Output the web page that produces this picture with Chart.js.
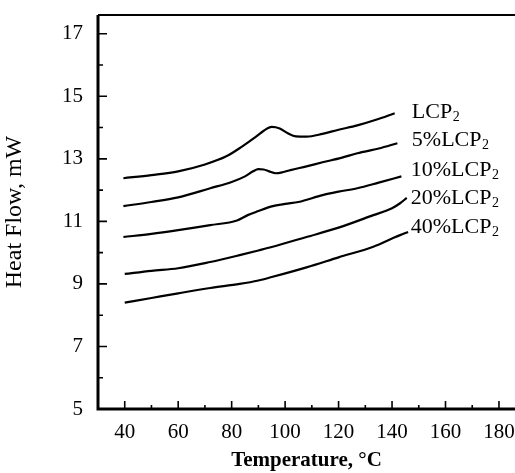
<!DOCTYPE html>
<html>
<head>
<meta charset="utf-8">
<script src="https://cdn.jsdelivr.net/npm/chart.js@4/dist/chart.umd.min.js"></script>
<style>
  html, body { margin: 0; padding: 0; background: #fff; }
  #wrap { width: 515px; height: 473px; }
</style>
</head>
<body>
<div id="wrap"><canvas id="dscChart" width="515" height="473"></canvas></div>
<script>
// === Curve data ===
const tempLCP2 = [39.5, 50, 60, 70, 78, 84, 89, 92, 95, 98, 101, 104, 108, 114, 120, 127, 134, 141];
const flowLCP2 = [12.38, 12.48, 12.60, 12.82, 13.08, 13.40, 13.70, 13.90, 14.02, 13.97, 13.82, 13.72, 13.71, 13.80, 13.93, 14.07, 14.25, 14.46];

const temp5 = [39.5, 50, 60, 72, 80, 85, 88, 90, 92, 94, 96.5, 99, 102, 108, 114, 121, 127, 135, 142];
const flow5 = [11.49, 11.62, 11.77, 12.06, 12.26, 12.44, 12.60, 12.67, 12.66, 12.60, 12.54, 12.57, 12.64, 12.76, 12.89, 13.03, 13.18, 13.33, 13.50];

const temp10 = [39.5, 50, 60, 72, 82, 86, 90, 95, 100, 105, 114, 120, 127, 135, 143.5];
const flow10 = [10.50, 10.60, 10.72, 10.88, 11.03, 11.20, 11.33, 11.48, 11.56, 11.62, 11.84, 11.95, 12.06, 12.24, 12.44];

const temp20 = [40, 50, 60, 72, 83, 90, 95, 108, 120, 133, 140, 143, 145.5];
const flow20 = [9.32, 9.42, 9.50, 9.70, 9.92, 10.07, 10.18, 10.50, 10.80, 11.20, 11.42, 11.58, 11.75];

const temp40 = [40, 50, 60, 72, 83, 90, 95, 108, 120, 133, 140, 143, 146];
const flow40 = [8.40, 8.55, 8.70, 8.87, 9.00, 9.11, 9.22, 9.53, 9.85, 10.19, 10.45, 10.56, 10.66];

// === Curve labels ===
const curveNames = ["LCP", "5%LCP", "10%LCP", "20%LCP", "40%LCP"];
const labelTemp = [147.4, 147.4, 147, 147, 147];
const labelFlow = [14.49, 13.59, 12.64, 11.74, 10.81];

// === Ticks ===
const xMajor = [40, 60, 80, 100, 120, 140, 160, 180];
const xMinor = [50, 70, 90, 110, 130, 150, 170];
const yMajor = [5, 7, 9, 11, 13, 15, 17];
const yMinor = [6, 8, 10, 12, 14, 16];

const FONT = "'Liberation Serif', 'Times New Roman', serif";

function toPoints(xs, ys) {
  return xs.map((x, i) => ({ x: x, y: ys[i] }));
}

const series = [
  toPoints(tempLCP2, flowLCP2),
  toPoints(temp5, flow5),
  toPoints(temp10, flow10),
  toPoints(temp20, flow20),
  toPoints(temp40, flow40),
];

// draws the frame, inward ticks and the curve labels
const framePlugin = {
  id: "frame",
  afterDraw(chart) {
    const { ctx, chartArea: a, scales } = chart;
    const xs = scales.x, ys = scales.y;
    ctx.save();
    ctx.strokeStyle = "#000";
    ctx.lineCap = "butt";

    // axes lines
    ctx.lineWidth = 3;
    ctx.beginPath();
    ctx.moveTo(a.left, a.top);
    ctx.lineTo(a.left, a.bottom);
    ctx.lineTo(a.right, a.bottom);
    ctx.stroke();
    ctx.lineWidth = 2;
    ctx.beginPath();
    ctx.moveTo(a.left, a.top);
    ctx.lineTo(a.right, a.top);
    ctx.stroke();

    // inward ticks
    ctx.lineWidth = 1.6;
    ctx.beginPath();
    yMajor.forEach((v) => {
      const p = ys.getPixelForValue(v);
      ctx.moveTo(a.left, p); ctx.lineTo(a.left + 9, p);
    });
    yMinor.forEach((v) => {
      const p = ys.getPixelForValue(v);
      ctx.moveTo(a.left, p); ctx.lineTo(a.left + 5, p);
    });
    xMajor.forEach((v) => {
      const p = xs.getPixelForValue(v);
      ctx.moveTo(p, a.bottom); ctx.lineTo(p, a.bottom - 8);
    });
    xMinor.forEach((v) => {
      const p = xs.getPixelForValue(v);
      ctx.moveTo(p, a.bottom); ctx.lineTo(p, a.bottom - 4);
    });
    ctx.stroke();

    // curve labels with subscript 2
    ctx.fillStyle = "#000";
    ctx.textBaseline = "middle";
    ctx.textAlign = "left";
    curveNames.forEach((name, i) => {
      const px = xs.getPixelForValue(labelTemp[i]);
      const py = ys.getPixelForValue(labelFlow[i]);
      ctx.font = "22px " + FONT;
      ctx.fillText(name, px, py);
      const w = ctx.measureText(name).width;
      ctx.font = "14px " + FONT;
      ctx.fillText("2", px + w + 0.5, py + 5);
    });
    ctx.restore();
  },
};

new Chart(document.getElementById("dscChart"), {
  type: "line",
  data: {
    datasets: series.map((pts) => ({
      data: pts,
      borderColor: "#000",
      borderWidth: 2.2,
      pointRadius: 0,
      fill: false,
      cubicInterpolationMode: "monotone",
    })),
  },
  options: {
    responsive: false,
    animation: false,
    layout: { padding: { top: 15, right: 0, left: 0, bottom: 0 } },
    plugins: {
      legend: { display: false },
      tooltip: { enabled: false },
    },
    scales: {
      x: {
        type: "linear",
        min: 30,
        max: 186,
        grid: { display: false, drawTicks: false },
        border: { display: false },
        afterBuildTicks: (s) => { s.ticks = xMajor.map((v) => ({ value: v })); },
        afterFit: (s) => { s.height = 64; s.paddingLeft = 0; s.paddingRight = 0; },
        ticks: {
          autoSkip: false,
          maxRotation: 0,
          padding: 11,
          color: "#000",
          font: { family: FONT, size: 21 },
        },
        title: {
          display: true,
          text: "Temperature, °C",
          color: "#000",
          padding: 0,
          font: { family: FONT, size: 21, weight: "bold" },
        },
      },
      y: {
        type: "linear",
        min: 5,
        max: 17.6,
        grid: { display: false, drawTicks: false },
        border: { display: false },
        afterBuildTicks: (s) => { s.ticks = yMajor.map((v) => ({ value: v })); },
        afterFit: (s) => { s.width = 98; s.paddingTop = 0; s.paddingBottom = 0; },
        ticks: {
          autoSkip: false,
          padding: 15,
          color: "#000",
          font: { family: FONT, size: 21 },
        },
        title: {
          display: true,
          text: "Heat Flow, mW",
          color: "#000",
          padding: { top: 0, bottom: 0 },
          font: { family: FONT, size: 24 },
        },
      },
    },
  },
  plugins: [framePlugin],
});
</script>
</body>
</html>
